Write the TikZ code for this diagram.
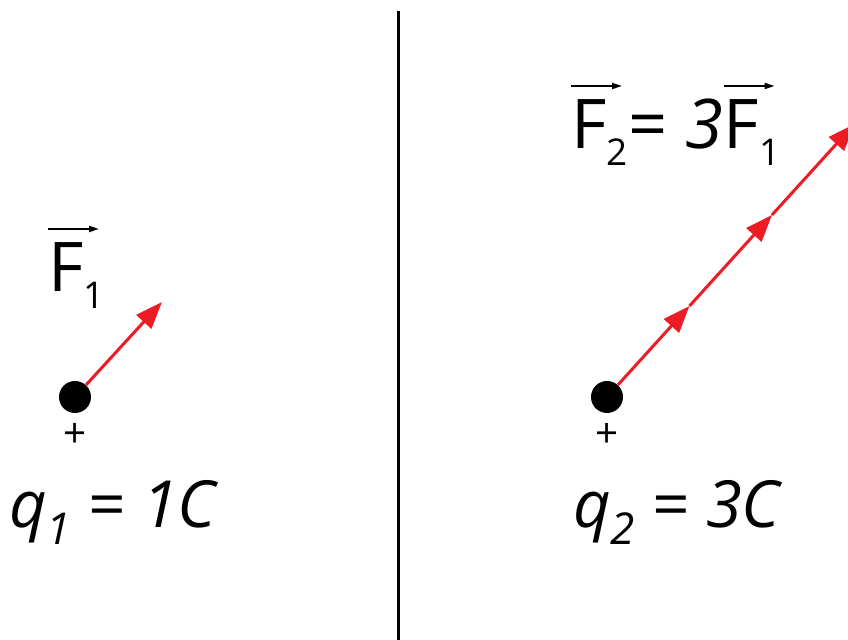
\documentclass[tikz,border=0pt]{standalone}
\usepackage{fontspec}
\setmainfont{Open Sans}
\usetikzlibrary{arrows.meta,positioning}
\definecolor{forcered}{HTML}{ED1C24}
\newcommand{\fsub}[1]{\raisebox{-0.34cm}{\fontsize{21}{21}\selectfont #1}}
\newcommand{\qsub}[1]{\raisebox{-0.34cm}{\fontsize{25}{25}\selectfont #1}}
\tikzset{
  charge/.style={circle,fill=black,inner sep=0pt,minimum size=0.64cm},
  force/.style={forcered,line width=0.06cm,-{Triangle[length=0.54cm,width=0.4cm]}},
  vecarrow/.style={line width=0.04cm,-{Triangle[length=0.2cm,width=0.12cm]}},
  bigF/.style={inner sep=0pt,font=\fontsize{39}{39}\selectfont},
  qlabel/.style={inner sep=0pt,font=\fontsize{37}{37}\selectfont\itshape},
  sign/.style={inner sep=0pt,font=\fontsize{23}{23}\selectfont},
}
\begin{document}
\begin{tikzpicture}
\useasboundingbox (0,0) rectangle (16.96,12.8);
\clip (0,0) rectangle (16.96,12.8);

% divider
\draw[line width=0.06cm] (7.96,0)--(7.96,12.58);

% left: one charge
\node[charge] (q1dot) at (1.5,4.86) {};
\node[sign,below=0.2cm of q1dot] (q1sign) {+};
\coordinate (F1tip) at (3.24,6.76);
\draw[force] (q1dot)--(F1tip);
\node[bigF,anchor=base west] (F1lbl) at (0.96,6.96) {F\fsub{1}};
\draw[vecarrow] ([yshift=1.26cm]F1lbl.base west)--++(1.02,0);
\node[qlabel,anchor=base west] (q1lbl) at (0.18,2.24) {q\qsub{1} = 1C};

% right: three times the charge
\node[charge] (q2dot) at (12.14,4.86) {};
\node[sign,below=0.2cm of q2dot] (q2sign) {+};
\coordinate (F2a) at (13.79,6.68);
\coordinate (F2b) at (15.44,8.50);
\coordinate (F2c) at (17.09,10.32);
\draw[force] (q2dot)--(F2a);
\draw[force] (F2a)--(F2b);
\draw[force] (F2b)--(F2c);
\node[bigF,anchor=base west] (F2lbl) at (11.42,9.82) {F\fsub{2}};
\node[bigF,base right=0pt of F2lbl] (eqlbl) {= \textit{3}};
\node[bigF,base right=0pt of eqlbl] (F1rlbl) {F\fsub{1}};
\draw[vecarrow] ([yshift=1.26cm]F2lbl.base west)--++(1.02,0);
\draw[vecarrow] ([yshift=1.26cm]F1rlbl.base west)--++(1.02,0);
\node[qlabel,anchor=base west] (q2lbl) at (11.46,2.24) {q\qsub{2} = 3C};
\end{tikzpicture}
\end{document}
